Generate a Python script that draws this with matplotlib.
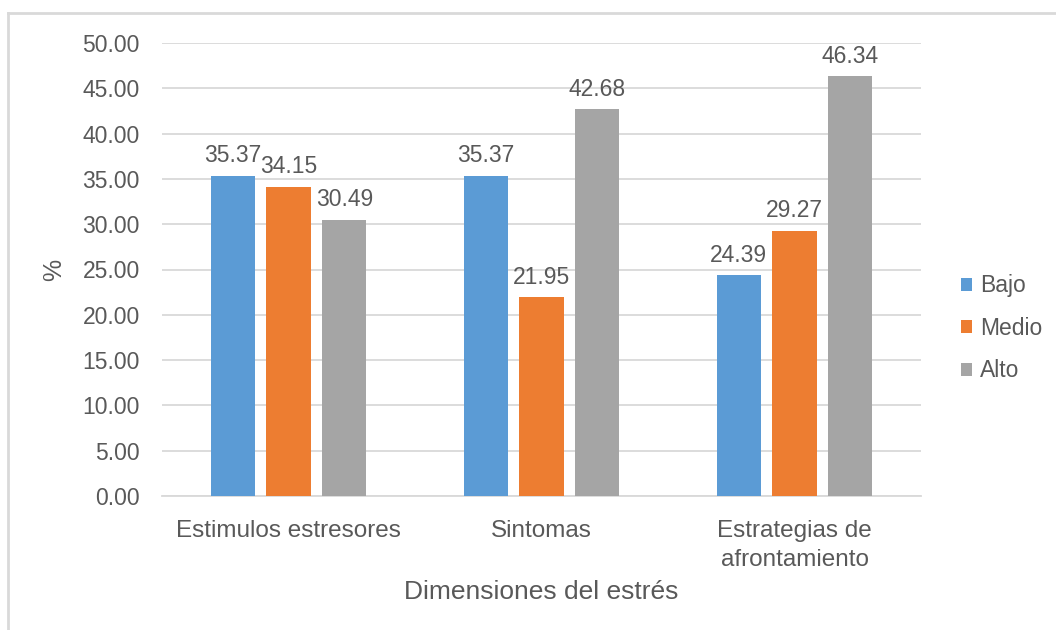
import numpy as np
import matplotlib
matplotlib.use("Agg")
import matplotlib.pyplot as plt
from matplotlib.lines import Line2D

plt.rcParams['font.family'] = ['Liberation Sans', 'DejaVu Sans']

categories = ["Estimulos estresores", "Sintomas", "Estrategias de\nafrontamiento"]
series_names = ["Bajo", "Medio", "Alto"]
bajo = [35.37, 35.37, 24.39]
medio = [34.15, 21.95, 29.27]
alto = [30.49, 42.68, 46.34]
y_ticks = [0, 5, 10, 15, 20, 25, 30, 35, 40, 45, 50]

colors = ["#5B9BD5", "#ED7D31", "#A5A5A5"]
text_color = "#595959"
grid_color = "#D9D9D9"

W, H = 1056, 630
fig = plt.figure(figsize=(W / 100, H / 100), dpi=100)
ax = fig.add_axes([162 / W, (H - 496) / H, 759 / W, 453 / H])

x = np.arange(len(categories))
bar_w = 0.174
offset = 0.221
for i, (name, vals) in enumerate(zip(series_names, [bajo, medio, alto])):
    bars = ax.bar(x + (i - 1) * offset, vals, width=bar_w, color=colors[i],
                  label=name, zorder=3)
    ax.bar_label(bars, labels=[f"{v:.2f}" for v in vals], padding=6,
                 fontsize=16.5, color=text_color)

ax.set_xlim(-0.5, len(categories) - 0.5)
ax.set_ylim(0, 50)
ax.set_yticks(y_ticks)
ax.set_yticklabels([f"{v:.2f}" for v in y_ticks])
ax.set_xticks(x)
ax.set_xticklabels(categories, linespacing=1.45)
ax.tick_params(axis='y', length=0, pad=16, labelsize=16.5, labelcolor=text_color)
ax.tick_params(axis='x', length=0, pad=17, labelsize=17.5, labelcolor=text_color)
ax.grid(axis='y', color=grid_color, linewidth=1.3, zorder=0)
for s in ["top", "right", "left"]:
    ax.spines[s].set_visible(False)
ax.spines["bottom"].set_color(grid_color)
ax.spines["bottom"].set_linewidth(1.3)

ax.set_ylabel("%", fontsize=18, color=text_color, labelpad=12)
ax.set_xlabel("Dimensiones del estrés", fontsize=19, color=text_color, labelpad=6)

leg = ax.legend(loc="center left", bbox_to_anchor=(1.025, 0.37), frameon=False,
                fontsize=16.5, handlelength=0.5, handleheight=0.5,
                handletextpad=0.35, labelspacing=0.85)
for t in leg.get_texts():
    t.set_color(text_color)

# outer chart frame (top and left edges visible)
border = "#D9D9D9"
fig.add_artist(Line2D([8 / W, 1], [1 - 13 / H, 1 - 13 / H], color=border, lw=2,
                      transform=fig.transFigure))
fig.add_artist(Line2D([8 / W, 8 / W], [0, 1 - 13 / H], color=border, lw=2,
                      transform=fig.transFigure))

fig.savefig("out.png", dpi=100, facecolor="white")
